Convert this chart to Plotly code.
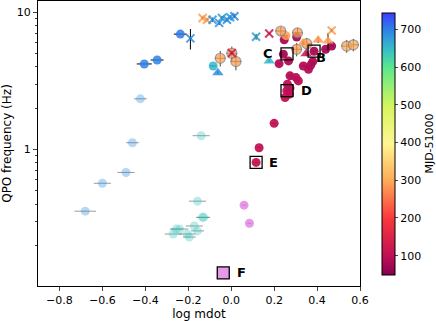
import math
import plotly.graph_objects as go

# crimson filled circles (early outburst)
cr_x = [0.243, 0.267, 0.223, 0.247, 0.305, 0.336, 0.36, 0.38, 0.371, 0.44, 0.468,
        0.274, 0.302, 0.313, 0.262, 0.274, 0.259, 0.271, 0.251, 0.2, 0.13, 0.116, 0.386]
cr_y = [4.94, 4.42, 4.22, 6.3, 6.59, 4.06, 3.84, 4.37, 4.13, 5.37, 5.67,
        3.44, 3.34, 3.16, 2.99, 2.8, 2.68, 2.53, 2.39, 1.55, 1.03, 0.805, 5.2]
cr_t = [80, 85, 90, 82, 78, 88, 92, 84, 86, 80, 76,
        90, 94, 96, 98, 100, 98, 102, 104, 106, 108, 110, 82]

# solid circles, other epochs
sc_x = [-0.237, -0.405, -0.345, -0.084, 0.255]
sc_y = [6.93, 4.2, 4.49, 4.06, 6.75]
sc_t = [705, 700, 700, 655, 290]
sc_xe = [0.03, 0.035, 0.03, 0.015, 0.01]

# faded circles
fd_x = [-0.423, -0.46, -0.49, -0.60, -0.68, -0.14, -0.157, -0.134, -0.128,
        -0.172, -0.157, -0.256, -0.24, -0.27, -0.205, -0.195]
fd_y = [2.34, 1.12, 0.68, 0.567, 0.355, 1.26, 0.42, 0.32, 0.32,
        0.277, 0.255, 0.263, 0.263, 0.242, 0.242, 0.23]
fd_t = [690, 690, 690, 690, 690, 640, 640, 640, 640,
        640, 640, 640, 640, 640, 640, 640]
fd_xe = [0.03, 0.03, 0.04, 0.04, 0.05, 0.04, 0.04, 0.03, 0.03,
         0.04, 0.03, 0.03, 0.04, 0.04, 0.04, 0.03]

# violet points
vi_x = [0.06, 0.085]
vi_y = [0.393, 0.29]

# open circles with gray edge
oc_x = [0.231, 0.309, -0.051, 0.003, 0.022, 0.305, 0.352, 0.538, 0.569]
oc_y = [7.3, 7.07, 4.62, 5.02, 4.37, 5.37, 5.9, 5.67, 5.79]
oc_t = [290, 285, 295, 300, 290, 285, 290, 300, 300]

# triangles
tr_x = [0.335, 0.405, 0.451, 0.349, 0.177, -0.062]
tr_y = [5.97, 6.27, 6.16, 4.99, 4.42, 3.63]
tr_t = [290, 285, 290, 110, 655, 690]
tr_ye = [0.2, 0.3, 0.9, 0.2, 0.1, 0.1]

# x markers
xm_x = [-0.133, -0.113, 0.468, -0.087, -0.056, -0.043, -0.02, -0.005, 0.015, 0.116, -0.19, 0.177, 0.003]
xm_y = [9.09, 8.83, 7.37, 8.83, 8.37, 9.09, 8.83, 9.2, 9.36, 6.62, 6.45, 7.0, 5.05]
xm_t = [290, 290, 290, 680, 690, 675, 690, 680, 690, 675, 690, 120, 130]
xm_ye = [0.2, 0.2, 0.2, 0.3, 0.3, 0.3, 0.3, 0.3, 0.3, 0.3, 1.1, 0.1, 0.1]

# labelled squares
sq_lab = ["B", "C", "D", "E", "F"]
sq_x = [0.386, 0.26, 0.26, 0.116, -0.037]
sq_y = [5.2, 4.97, 2.68, 0.805, 0.126]
lab_x = [0.419, 0.172, 0.349, 0.195, 0.047]
lab_y = [4.65, 5.04, 2.68, 0.805, 0.126]

cscale = [
    [0.0, "rgb(135,0,80)"],
    [0.07, "rgb(190,15,85)"],
    [0.216, "rgb(250,55,60)"],
    [0.36, "rgb(255,170,85)"],
    [0.50, "rgb(255,245,145)"],
    [0.64, "rgb(215,245,95)"],
    [0.72, "rgb(150,240,115)"],
    [0.79, "rgb(90,232,140)"],
    [0.86, "rgb(55,190,200)"],
    [0.93, "rgb(45,135,230)"],
    [1.0, "rgb(60,60,255)"],
]

fig = go.Figure()

fig.add_trace(go.Scatter(
    x=fd_x, y=fd_y, mode="markers",
    marker=dict(size=9, color=fd_t, coloraxis="coloraxis", opacity=0.35),
    error_x=dict(type="data", array=fd_xe, color="rgba(90,90,90,0.6)", thickness=1, width=0),
))
fig.add_trace(go.Scatter(
    x=vi_x, y=vi_y, mode="markers",
    marker=dict(size=9, color="rgb(220,110,220)", opacity=0.7),
    error_x=dict(type="data", array=[0.01, 0.01], color="rgba(90,90,90,0.6)", thickness=1, width=0),
))
fig.add_trace(go.Scatter(
    x=cr_x, y=cr_y, mode="markers",
    marker=dict(size=9, color=cr_t, coloraxis="coloraxis", opacity=0.95),
    error_x=dict(type="data", array=[0.008] * len(cr_x), color="black", thickness=1, width=0),
))
fig.add_trace(go.Scatter(
    x=sc_x, y=sc_y, mode="markers",
    marker=dict(size=9, color=sc_t, coloraxis="coloraxis", opacity=0.85),
    error_x=dict(type="data", array=sc_xe, color="black", thickness=1, width=0),
))
fig.add_trace(go.Scatter(
    x=oc_x, y=oc_y, mode="markers",
    marker=dict(size=10, color=oc_t, coloraxis="coloraxis", opacity=0.75,
                line=dict(color="gray", width=1.2)),
    error_x=dict(type="data", array=[0.025] * len(oc_x), color="rgb(70,70,70)", thickness=1, width=0),
    error_y=dict(type="data", array=[0.6] * len(oc_x), color="rgb(70,70,70)", thickness=1, width=0),
))
fig.add_trace(go.Scatter(
    x=tr_x, y=tr_y, mode="markers",
    marker=dict(size=10, symbol="triangle-up", color=tr_t, coloraxis="coloraxis", opacity=0.85),
    error_y=dict(type="data", array=tr_ye, color="black", thickness=1, width=0),
))
fig.add_trace(go.Scatter(
    x=xm_x, y=xm_y, mode="markers",
    marker=dict(size=8, symbol="x-thin", color=xm_t, coloraxis="coloraxis", opacity=0.85,
                line=dict(width=2, color=xm_t, coloraxis="coloraxis")),
    error_x=dict(type="data", array=[0.006] * len(xm_x), color="black", thickness=1, width=0),
    error_y=dict(type="data", array=xm_ye, color="black", thickness=1, width=0),
))
fig.add_trace(go.Scatter(
    x=sq_x, y=sq_y, mode="markers",
    marker=dict(size=12, symbol="square",
                color=["rgba(0,0,0,0)"] * 4 + ["rgba(220,110,220,0.7)"],
                line=dict(color="black", width=1.3)),
))

# log axis: annotation y is given in log units
for lab, lx, ly in zip(sq_lab, lab_x, lab_y):
    fig.add_annotation(x=lx, y=math.log10(ly), text="<b>" + lab + "</b>",
                       showarrow=False, font=dict(size=13, color="black"))

minor_vals = [0.2, 0.3, 0.4, 0.5, 0.6, 0.7, 0.8, 0.9, 2, 3, 4, 5, 6, 7, 8, 9]

fig.update_layout(
    width=436, height=321,
    margin=dict(l=38, r=76, t=1, b=35, autoexpand=False),
    plot_bgcolor="white", paper_bgcolor="white",
    showlegend=False,
    font=dict(family="DejaVu Sans", size=11, color="black"),
    coloraxis=dict(
        colorscale=cscale, cmin=50, cmax=745,
        colorbar=dict(
            x=1.068, xanchor="left", xpad=0, y=0.5, yanchor="middle",
            len=0.99, thickness=13, outlinecolor="black", outlinewidth=1,
            tickvals=[100, 200, 300, 400, 500, 600, 700],
            ticks="outside", ticklen=3, tickfont=dict(size=11),
            title=dict(text="MJD-51000", side="right", font=dict(size=11)),
        ),
    ),
    xaxis=dict(
        range=[-0.9, 0.6], tickvals=[-0.8, -0.6, -0.4, -0.2, 0.0, 0.2, 0.4, 0.6],
        ticktext=["−0.8", "−0.6", "−0.4", "−0.2", "0.0", "0.2", "0.4", "0.6"],
        showgrid=False, zeroline=False, showline=True, linecolor="black", linewidth=1,
        mirror=True, ticks="outside", ticklen=4, automargin=False,
        title=dict(text="log mdot", standoff=2, font=dict(size=12)),
    ),
    yaxis=dict(
        type="log", range=[-0.995, 1.082], tickvals=[1, 10], ticktext=["1", "10"],
        showgrid=False, zeroline=False, showline=True, linecolor="black", linewidth=1,
        mirror=True, ticks="outside", ticklen=4, automargin=False,
        minor=dict(tickvals=minor_vals, ticks="outside", ticklen=2, showgrid=False),
        title=dict(text="QPO frequency (Hz)", standoff=2, font=dict(size=12)),
    ),
)

fig.write_html("out.html", config={"displayModeBar": False},
               post_script="document.body.style.margin='0';")
